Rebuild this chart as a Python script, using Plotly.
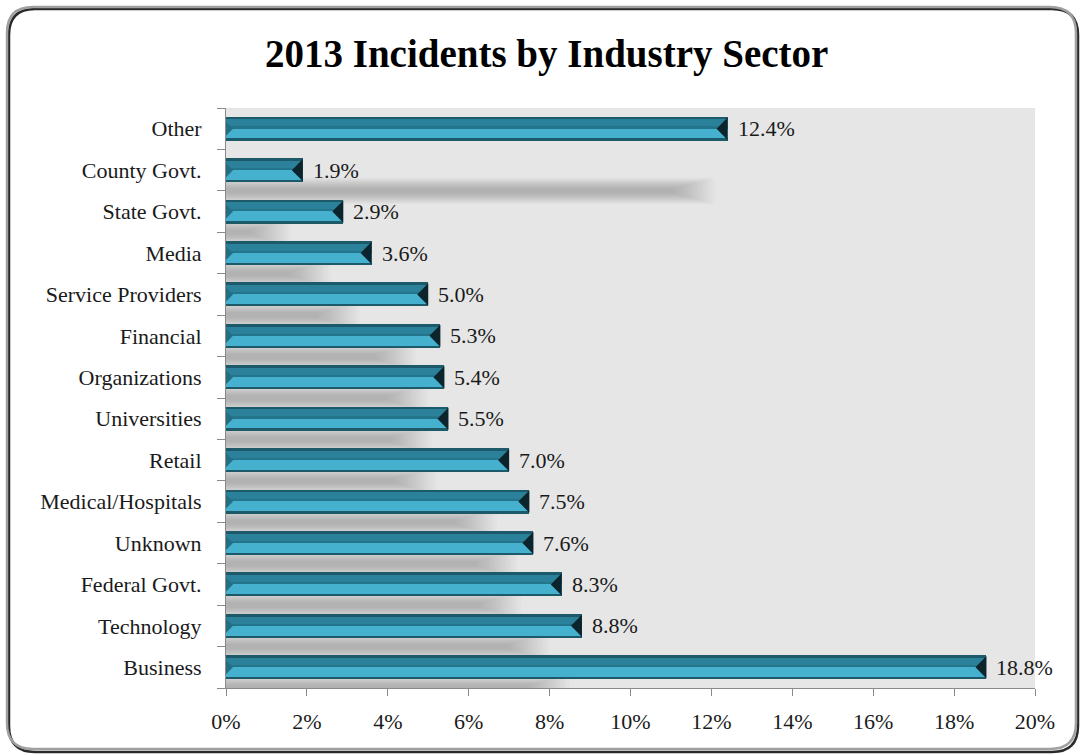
import plotly.graph_objects as go

# Share of incidents by sector (percent), listed from bottom to top
sectors = ["Business", "Technology", "Federal Govt.", "Unknown", "Medical/Hospitals",
           "Retail", "Universities", "Organizations", "Financial", "Service Providers",
           "Media", "State Govt.", "County Govt.", "Other"]
shares = [18.8, 8.8, 8.3, 7.6, 7.5, 7.0, 5.5, 5.4, 5.3, 5.0, 3.6, 2.9, 1.9, 12.4]
x_ticks = [0, 2, 4, 6, 8, 10, 12, 14, 16, 18, 20]

W, H = 1081, 755
ML, MR, MT, MB = 226, 46, 108, 67
PW, PH = W - ML - MR, H - MT - MB
XMAX = 20.0
pos = list(range(len(sectors)))
SERIF = "Liberation Serif, Times New Roman, serif"


def px_to_paper(px, py):
    return (px - ML) / PW, (H - MB - py) / PH


def rounded_rect(x0, y0, x1, y1, r):
    def P(x, y):
        a, b = px_to_paper(x, y)
        return f"{a:.5f},{b:.5f}"
    return (f"M{P(x0 + r, y0)} L{P(x1 - r, y0)} Q{P(x1, y0)} {P(x1, y0 + r)} "
            f"L{P(x1, y1 - r)} Q{P(x1, y1)} {P(x1 - r, y1)} "
            f"L{P(x0 + r, y1)} Q{P(x0, y1)} {P(x0, y1 - r)} "
            f"L{P(x0, y0 + r)} Q{P(x0, y0)} {P(x0 + r, y0)} Z")


fig = go.Figure()

# Bevelled bar: stacked horizontal bands of the same length
bands = [
    (-0.29, 0.58, "#1c5a6a"),   # outline / edges
    (-0.235, 0.24, "#45b1ce"),  # lower light band
    (0.005, 0.05, "#22758a"),   # divider
    (0.055, 0.17, "#2a8199"),   # upper band
]
for off, wid, col in bands:
    fig.add_trace(go.Bar(
        y=pos, x=shares, orientation="h",
        offset=off, width=wid,
        marker=dict(color=col, line=dict(width=0)),
        hoverinfo="skip", showlegend=False,
    ))

# End caps: dark wedge at the tip, small bevel at the root
unit_x = XMAX / PW
cap_w = 11 * unit_x
root_w = 7 * unit_x
cx, cy, rx, ry = [], [], [], []
for p, v in zip(pos, shares):
    cx += [v, v - cap_w, v, v, None]
    cy += [p + 0.27, p, p - 0.27, p + 0.27, None]
    rx += [0, root_w, 0, 0, None]
    ry += [p + 0.17, p, p - 0.17, p + 0.17, None]
fig.add_trace(go.Scatter(x=cx, y=cy, mode="lines", fill="toself",
                         fillcolor="#0c252c", line=dict(width=0),
                         hoverinfo="skip", showlegend=False))
fig.add_trace(go.Scatter(x=rx, y=ry, mode="lines", fill="toself",
                         fillcolor="#246f83", line=dict(width=0),
                         hoverinfo="skip", showlegend=False))

# Soft drop shadows cast below each bar (many faint nested layers)
shapes = []
n_layers = 14
for p, v in zip(pos, shares):
    c = p - 1.5
    if c < -0.5:
        continue
    length = v - 0.8
    for k in range(n_layers):
        t = k / (n_layers - 1)
        hh = 0.06 + 0.26 * t
        dx = -0.5 + 1.0 * t
        shapes.append(dict(type="rect", xref="x", yref="y", layer="below",
                           x0=0, x1=max(length + dx, 0.1),
                           y0=max(c - hh, -0.5), y1=c + hh,
                           fillcolor="rgba(0,0,0,0.017)", line=dict(width=0)))

# Outer rounded frame with a dark edge on the lower right
shapes.append(dict(type="path", xref="paper", yref="paper", layer="above",
                   path=rounded_rect(9, 9, 1078, 752, 26),
                   line=dict(color="#2a2a2a", width=2.5)))
shapes.append(dict(type="path", xref="paper", yref="paper", layer="above",
                   path=rounded_rect(7, 7, 1076, 749, 26),
                   line=dict(color="#a0a0a0", width=2.5)))

annotations = []
for p, v in zip(pos, shares):
    annotations.append(dict(x=v, y=p, xref="x", yref="y", text=f"{v:.1f}%",
                            showarrow=False, xanchor="left", yanchor="middle",
                            xshift=8, font=dict(family=SERIF, size=22, color="#1a1a1a")))
tx, ty = px_to_paper(546, 54)
annotations.append(dict(x=tx, y=ty, xref="paper", yref="paper",
                        text="<b>2013 Incidents by Industry Sector</b>",
                        showarrow=False, xanchor="center", yanchor="middle",
                        font=dict(family=SERIF, size=39, color="#000000")))

fig.update_layout(
    width=W, height=H,
    margin=dict(l=ML, r=MR, t=MT, b=MB, pad=0),
    paper_bgcolor="#ffffff", plot_bgcolor="#e6e6e6",
    barmode="overlay", bargap=0,
    shapes=shapes, annotations=annotations,
    showlegend=False,
    xaxis=dict(range=[0, XMAX], tickvals=x_ticks,
               ticktext=[f"{t}%" for t in x_ticks],
               ticks="outside", ticklen=7, tickcolor="#8a8a8a", tickwidth=1,
               showline=True, linecolor="#8a8a8a", linewidth=1,
               showgrid=False, zeroline=False, ticklabelstandoff=7,
               tickfont=dict(family=SERIF, size=22, color="#1a1a1a"),
               fixedrange=True),
    yaxis=dict(range=[-0.5, len(sectors) - 0.5], tickvals=pos, ticktext=sectors,
               ticks="", ticklabelstandoff=19,
               showline=True, linecolor="#8a8a8a", linewidth=1,
               showgrid=False, zeroline=False,
               minor=dict(tickvals=[i - 0.5 for i in range(len(sectors) + 1)],
                          ticks="outside", ticklen=8, tickcolor="#8a8a8a",
                          tickwidth=1, showgrid=False),
               tickfont=dict(family=SERIF, size=22, color="#1a1a1a"),
               fixedrange=True),
)

fig.write_html("out.html", config={"displayModeBar": False})
